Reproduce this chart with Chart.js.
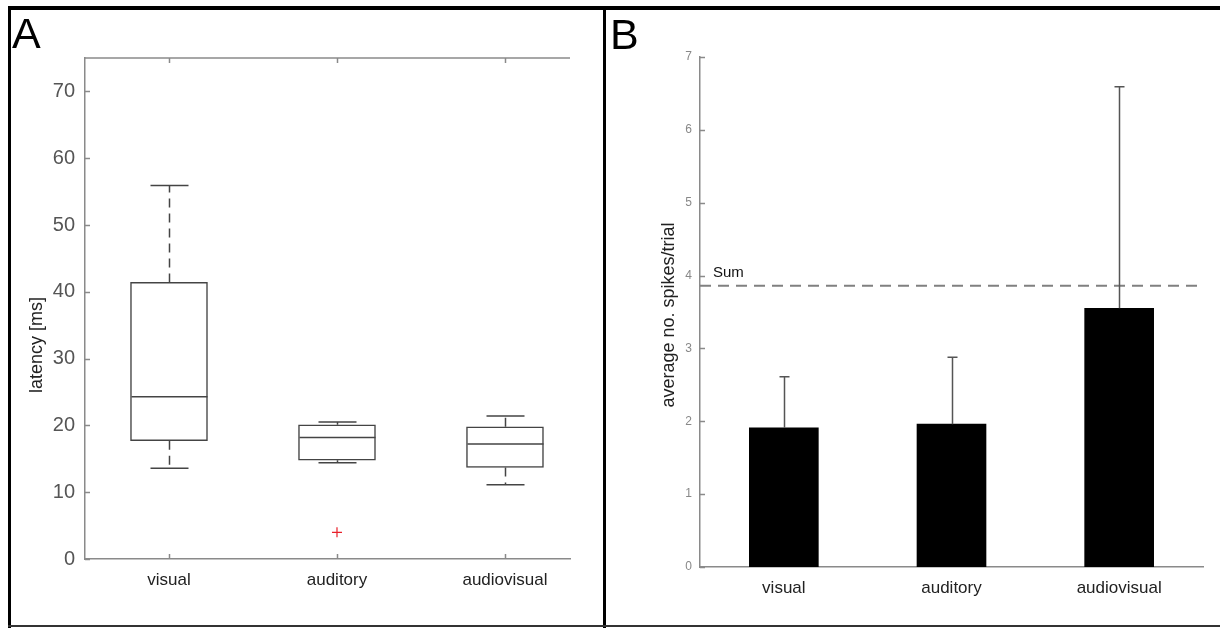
<!DOCTYPE html>
<html lang="en">
<head>
  <meta charset="UTF-8">
  <title>Latency and spike count</title>
  <script src="https://cdn.jsdelivr.net/npm/chart.js"></script>
  <style>
    html, body { margin: 0; padding: 0; background: #fff; }
    body {
      width: 1220px;
      height: 628px;
      position: relative;
      overflow: hidden;
      font-family: Arial, "Liberation Sans", sans-serif;
    }
    canvas { position: absolute; top: 0; }
    #latencyChart { left: 0; }
    #spikeChart { left: 606px; }
    .frame { position: absolute; background: #000; z-index: 2; }
    .letter {
      position: absolute;
      font-size: 43px;
      line-height: 1;
      color: #000;
      z-index: 2;
    }
  </style>
</head>
<body>
  <canvas id="latencyChart" width="604" height="628"></canvas>
  <canvas id="spikeChart" width="614" height="628"></canvas>

  <div class="frame" style="left:8px;top:6px;width:1212px;height:4px;"></div>
  <div class="frame" style="left:8px;top:6px;width:3px;height:622px;"></div>
  <div class="frame" style="left:603px;top:6px;width:3px;height:622px;"></div>
  <div class="frame" style="left:8px;top:625px;width:1212px;height:2px;background:#333;"></div>
  <div class="letter" style="left:12px;top:12px;">A</div>
  <div class="letter" style="left:610px;top:13px;">B</div>

  <script>
    const groups = ['visual', 'auditory', 'audiovisual'];

    // panel A: latency box summary (ms)
    const whiskerLow = [13.6, 14.4, 11.1];
    const q1 = [17.7, 14.8, 13.7];
    const median = [24.3, 18.2, 17.2];
    const q3 = [41.4, 20.1, 19.8];
    const whiskerHigh = [55.9, 20.5, 21.4];
    const outlierGroup = [2];
    const outlierValue = [4.0];
    const latencyTicks = [0, 10, 20, 30, 40, 50, 60, 70];

    // panel B: mean spikes per trial + upper error
    const meanSpikes = [1.91, 1.96, 3.55];
    const errorTop = [2.61, 2.88, 6.59];
    const sumLevel = 3.86;
    const spikeTicks = [0, 1, 2, 3, 4, 5, 6, 7];

    const axisGrey = '#8a8a8a';
    const lineDark = '#444';

    // MATLAB style inward tick marks + hand placed y label
    const axisDecor = {
      id: 'axisDecor',
      afterDraw(chart, args, opts) {
        const ctx = chart.ctx;
        const { left, right, top, bottom } = chart.chartArea;
        const xs = chart.scales.x, ys = chart.scales.y;
        ctx.save();
        ctx.strokeStyle = axisGrey;
        ctx.lineWidth = 1.5;
        ctx.beginPath();
        ys.ticks.forEach(t => {
          const y = Math.round(ys.getPixelForValue(t.value)) + 0.5;
          ctx.moveTo(left, y);
          ctx.lineTo(left + 5, y);
        });
        if (opts.boxTop) {
          ctx.moveTo(left, top);
          ctx.lineTo(right, top);
          xs.ticks.forEach(t => {
            const x = Math.round(xs.getPixelForValue(t.value)) + 0.5;
            ctx.moveTo(x, bottom);
            ctx.lineTo(x, bottom - 5);
            ctx.moveTo(x, top);
            ctx.lineTo(x, top + 5);
          });
        }
        ctx.stroke();
        // y label
        ctx.translate(opts.labelX, opts.labelY);
        ctx.rotate(-Math.PI / 2);
        ctx.fillStyle = '#222';
        ctx.font = '18px Arial';
        ctx.textAlign = 'center';
        ctx.textBaseline = 'middle';
        ctx.fillText(opts.label, 0, 0);
        ctx.restore();
      }
    };

    const boxWhiskers = {
      id: 'boxWhiskers',
      afterDatasetsDraw(chart) {
        const ctx = chart.ctx;
        const xs = chart.scales.x, ys = chart.scales.y;
        const half = 38, cap = 19;
        ctx.save();
        ctx.strokeStyle = lineDark;
        ctx.lineWidth = 1.5;
        groups.forEach((g, i) => {
          const x = Math.round(xs.getPixelForValue(i + 1)) + 0.5;
          ctx.setLineDash([]);
          ctx.beginPath();
          const ym = ys.getPixelForValue(median[i]);
          ctx.moveTo(x - half, ym);
          ctx.lineTo(x + half, ym);
          const yh = ys.getPixelForValue(whiskerHigh[i]);
          const yl = ys.getPixelForValue(whiskerLow[i]);
          ctx.moveTo(x - cap, yh);
          ctx.lineTo(x + cap, yh);
          ctx.moveTo(x - cap, yl);
          ctx.lineTo(x + cap, yl);
          ctx.stroke();
          // dashed whiskers
          ctx.setLineDash([9, 6]);
          ctx.beginPath();
          ctx.moveTo(x, ys.getPixelForValue(q3[i]));
          ctx.lineTo(x, yh);
          ctx.moveTo(x, ys.getPixelForValue(q1[i]));
          ctx.lineTo(x, yl);
          ctx.stroke();
        });
        ctx.restore();
      }
    };

    new Chart(document.getElementById('latencyChart'), {
      type: 'bar',
      data: {
        datasets: [{
          data: groups.map((g, i) => ({ x: i + 1, y: [q1[i], q3[i]] })),
          backgroundColor: '#fff',
          borderColor: lineDark,
          borderWidth: 1.5,
          borderSkipped: false,
          barThickness: 77
        }, {
          type: 'scatter',
          data: outlierGroup.map((g, i) => ({ x: g, y: outlierValue[i] })),
          pointStyle: 'cross',
          pointRadius: 5,
          borderColor: '#e8202a',
          borderWidth: 1.2
        }]
      },
      options: {
        responsive: false,
        animation: false,
        layout: { padding: { left: 0, top: 58, right: 34, bottom: 29 } },
        plugins: {
          legend: { display: false },
          tooltip: { enabled: false },
          axisDecor: { boxTop: true, label: 'latency [ms]', labelX: 37, labelY: 345 }
        },
        scales: {
          x: {
            type: 'linear',
            offset: false,
            min: 0.5,
            max: 3.387,
            afterBuildTicks: s => { s.ticks = groups.map((g, i) => ({ value: i + 1 })); },
            afterFit: s => { s.height = 40; },
            grid: { display: false },
            border: { color: axisGrey, width: 1.5 },
            ticks: {
              callback: v => groups[v - 1],
              color: '#222',
              padding: 3,
              font: { family: 'Arial', size: 17 }
            }
          },
          y: {
            min: 0,
            max: 75,
            afterBuildTicks: s => { s.ticks = latencyTicks.map(v => ({ value: v })); },
            afterFit: s => { s.width = 85; },
            grid: { display: false },
            border: { color: axisGrey, width: 1.5 },
            ticks: {
              color: '#555',
              padding: 2,
              font: { family: 'Arial', size: 20 }
            }
          }
        }
      },
      plugins: [boxWhiskers, axisDecor]
    });

    const errorBars = {
      id: 'errorBars',
      afterDatasetsDraw(chart) {
        const ctx = chart.ctx;
        const xs = chart.scales.x, ys = chart.scales.y;
        const { left, right } = chart.chartArea;
        ctx.save();
        // sum reference line
        const ySum = ys.getPixelForValue(sumLevel);
        ctx.strokeStyle = '#808080';
        ctx.lineWidth = 2;
        ctx.setLineDash([11, 7]);
        ctx.beginPath();
        ctx.moveTo(left, ySum);
        ctx.lineTo(right - 3, ySum);
        ctx.stroke();
        ctx.setLineDash([]);
        ctx.fillStyle = '#111';
        ctx.font = '15px Arial';
        ctx.textBaseline = 'alphabetic';
        ctx.fillText('Sum', left + 13, ySum - 9);
        // error bars
        ctx.strokeStyle = '#555';
        ctx.lineWidth = 1.5;
        ctx.beginPath();
        groups.forEach((g, i) => {
          const x = Math.round(xs.getPixelForValue(i)) + 0.5;
          const yTop = ys.getPixelForValue(errorTop[i]);
          ctx.moveTo(x, ys.getPixelForValue(meanSpikes[i]));
          ctx.lineTo(x, yTop);
          ctx.moveTo(x - 5, yTop);
          ctx.lineTo(x + 5, yTop);
        });
        ctx.stroke();
        ctx.restore();
      }
    };

    new Chart(document.getElementById('spikeChart'), {
      type: 'bar',
      data: {
        labels: groups,
        datasets: [{
          data: meanSpikes,
          backgroundColor: '#000',
          borderWidth: 0,
          barThickness: 69
        }]
      },
      options: {
        responsive: false,
        animation: false,
        layout: { padding: { left: 0, top: 57, right: 17, bottom: 21 } },
        plugins: {
          legend: { display: false },
          tooltip: { enabled: false },
          axisDecor: { boxTop: false, label: 'average no. spikes/trial', labelX: 63, labelY: 315 }
        },
        scales: {
          x: {
            afterFit: s => { s.height = 40; },
            grid: { display: false },
            border: { color: axisGrey, width: 1.5 },
            ticks: {
              color: '#222',
              padding: 3,
              font: { family: 'Arial', size: 17 }
            }
          },
          y: {
            min: 0,
            max: 7,
            afterBuildTicks: s => { s.ticks = spikeTicks.map(v => ({ value: v })); },
            afterFit: s => { s.width = 94; },
            grid: { display: false },
            border: { color: axisGrey, width: 1.5 },
            ticks: {
              color: '#888',
              padding: 0,
              font: { family: 'Arial', size: 12 }
            }
          }
        }
      },
      plugins: [errorBars, axisDecor]
    });
  </script>
</body>
</html>
